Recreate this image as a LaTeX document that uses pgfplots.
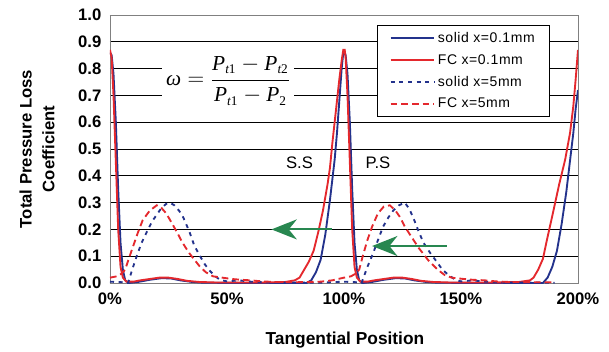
\documentclass[border=0pt]{standalone}
\usepackage{pgfplots}
\pgfplotsset{compat=1.18}
\usepackage{fontspec}
\setmainfont{Liberation Sans}
\newfontfamily\legfont[LetterSpace=4]{Liberation Sans}
\newfontfamily\tnr{Liberation Serif}
\usetikzlibrary{arrows.meta}
\definecolor{cblue}{RGB}{35,50,140}
\definecolor{cred}{RGB}{228,40,45}
\definecolor{cgreen}{RGB}{40,135,80}
\newcommand{\ti}[1]{\mbox{\tnr\itshape #1}}
\newcommand{\sub}[1]{\mbox{\tnr\fontsize{10}{12}\selectfont #1}}
\begin{document}
\begin{tikzpicture}
\useasboundingbox (-82.5pt,-51pt) rectangle (374.25pt,212.25pt);
\begin{axis}[
  scale only axis, width=351pt, height=201pt,
  xmin=0, xmax=200, ymin=0, ymax=1,
  xtick={0,50,100,150,200},
  xticklabels={0\%,50\%,100\%,150\%,200\%},
  ytick={0,0.1,...,1.0},
  yticklabel style={/pgf/number format/fixed,/pgf/number format/fixed zerofill,/pgf/number format/precision=1},
  /pgf/number format/assume math mode=true,
  major tick length=0pt,
  ymajorgrids, grid style={black, line width=0.7pt},
  axis line style={draw=gray, line width=0.7pt},
  tick label style={font=\fontsize{12.5}{14}\selectfont\bfseries},
  xticklabel style={yshift=-4pt},
  yticklabel style={xshift=-3pt},
  xlabel={Tangential Position},
  ylabel={Total Pressure Loss\\Coefficient},
  xlabel style={font=\fontsize{13}{15}\selectfont\bfseries, at={(axis description cs:0.502,-0.213)}, anchor=center},
  ylabel style={font=\fontsize{12.5}{17}\selectfont\bfseries, align=center, at={(axis description cs:-0.156,0.5)}, anchor=center},
  legend style={at={(axis description cs:0.94,0.963)}, anchor=north east, draw=black, line width=0.8pt, fill=white,
    font=\legfont\fontsize{10.5}{12}\selectfont, row sep=3.5pt, inner xsep=9pt, inner ysep=3pt},
  legend cell align=left,
  legend image code/.code={\draw[#1] plot coordinates {(0cm,0cm) (1.15cm,0cm)};},
]
\addplot[cblue, line width=1.4pt] coordinates {(0,0.86)(0.7,0.85)(1.5,0.78)(2.5,0.6)(3.5,0.35)(4.5,0.15)(5.5,0.05)(6.5,0.01)(8,0)(12,0.004)(17,0.012)(22,0.018)(26,0.017)(30,0.01)(35,0.004)(40,0.001)(60,0)(84,0)(86,0.01)(88,0.04)(90,0.086)(92,0.18)(94,0.31)(96,0.46)(97,0.56)(98,0.68)(99,0.8)(99.7,0.86)(100.3,0.86)(100.7,0.85)(101.5,0.78)(102.5,0.6)(103.5,0.35)(104.5,0.15)(105.5,0.05)(106.5,0.01)(108,0)(112,0.004)(117,0.012)(122,0.018)(126,0.017)(130,0.01)(135,0.004)(140,0.001)(160,0)(185,0)(187,0.02)(189,0.06)(191,0.12)(193,0.22)(195,0.34)(196.5,0.45)(198,0.56)(199,0.65)(200,0.72)};
\addlegendentry{solid x=0.1mm}
\addplot[cred, line width=1.4pt] coordinates {(0,0.87)(0.7,0.84)(1.5,0.70)(2.5,0.45)(3.5,0.20)(4.5,0.06)(5.5,0.02)(7,0.005)(10,0.005)(13,0.01)(17,0.015)(21,0.02)(25,0.02)(29,0.015)(33,0.008)(38,0.004)(45,0.002)(55,0.002)(65,0.002)(75,0.004)(79,0.01)(81,0.02)(83,0.05)(85,0.08)(87,0.12)(89,0.19)(91,0.27)(93,0.37)(94,0.43)(95,0.52)(96,0.6)(97,0.68)(98,0.76)(99,0.83)(99.7,0.87)(100.3,0.87)(100.7,0.84)(101.5,0.70)(102.5,0.45)(103.5,0.20)(104.5,0.06)(105.5,0.02)(107,0.005)(110,0.005)(113,0.01)(117,0.015)(121,0.02)(125,0.02)(129,0.015)(133,0.008)(138,0.004)(145,0.002)(155,0.002)(165,0.002)(175,0.004)(179.5,0.01)(181,0.02)(183,0.05)(185,0.09)(186.7,0.16)(189,0.25)(192,0.37)(194.5,0.46)(196.6,0.56)(198,0.66)(199,0.76)(200,0.87)};
\addlegendentry{FC x=0.1mm}
\addplot[cblue, line width=1.4pt, dash pattern=on 3pt off 3.5pt] coordinates {(0,0.005)(5,0.003)(7.7,0)(9.5,0.05)(11.4,0.1)(13.5,0.15)(15.7,0.19)(18,0.23)(20,0.255)(22,0.28)(24,0.295)(25.6,0.3)(27.5,0.29)(29.5,0.27)(31.3,0.245)(34,0.19)(36,0.14)(38.5,0.1)(40.5,0.07)(42.7,0.045)(45,0.025)(47,0.012)(50,0.006)(55,0.01)(60,0.005)(70,0.002)(90,0.001)(100,0.005)(105,0.003)(107.5,0)(110,0.06)(112.4,0.11)(114.5,0.16)(116.7,0.21)(119,0.245)(121,0.27)(123.5,0.29)(126,0.3)(128,0.275)(130,0.235)(132,0.19)(134,0.15)(137,0.11)(140,0.075)(142,0.05)(144,0.035)(147.5,0.012)(150,0.006)(155,0.01)(160,0.005)(170,0.002)(190,0.001)};
\addlegendentry{solid x=5mm}
\addplot[cred, line width=1.4pt, dash pattern=on 5pt off 3pt] coordinates {(0,0.02)(3,0.025)(5,0.035)(6.5,0.05)(8,0.09)(10,0.14)(12,0.19)(14,0.235)(17,0.27)(20,0.29)(22,0.28)(24,0.26)(26,0.23)(28.6,0.19)(31,0.15)(34,0.11)(38.5,0.06)(41,0.04)(44,0.025)(48,0.02)(52,0.015)(56,0.012)(60,0.01)(65,0.006)(70,0.004)(80,0.003)(90,0.005)(95,0.01)(100,0.02)(103,0.025)(105,0.035)(106.5,0.05)(108,0.1)(110,0.16)(112,0.21)(114.5,0.26)(117,0.285)(119.6,0.29)(122,0.27)(124,0.245)(126,0.21)(129,0.17)(132,0.13)(136,0.085)(140,0.05)(143,0.03)(146,0.02)(150,0.016)(155,0.012)(160,0.01)(165,0.006)(170,0.004)(180,0.003)(190,0.003)};
\addlegendentry{FC x=5mm}
\node[fill=white, inner xsep=3pt, inner ysep=1pt, font=\fontsize{16}{19}\selectfont] at (axis cs:50.5,0.755) {$\displaystyle\ti{ω}=\frac{\ti{P}_{\sub{\itshape t\upshape 1}}-\ti{P}_{\sub{\itshape t\upshape 2}}}{\ti{P}_{\sub{\itshape t\upshape 1}}-\ti{P}_{\sub{2}}}$};
\node[font=\fontsize{12.5}{15}\selectfont] at (axis cs:81,0.45) {S.S};
\node[font=\fontsize{12.5}{15}\selectfont] at (axis cs:114.5,0.45) {P.S};
\draw[cgreen, line width=1.5pt, -{Stealth[length=19pt,width=15pt,inset=6pt]}] (axis cs:95,0.2) -- (axis cs:69,0.2);
\draw[cgreen, line width=1.5pt, -{Stealth[length=19pt,width=15pt,inset=6pt]}] (axis cs:144,0.138) -- (axis cs:112,0.138);
\end{axis}
\end{tikzpicture}
\end{document}
